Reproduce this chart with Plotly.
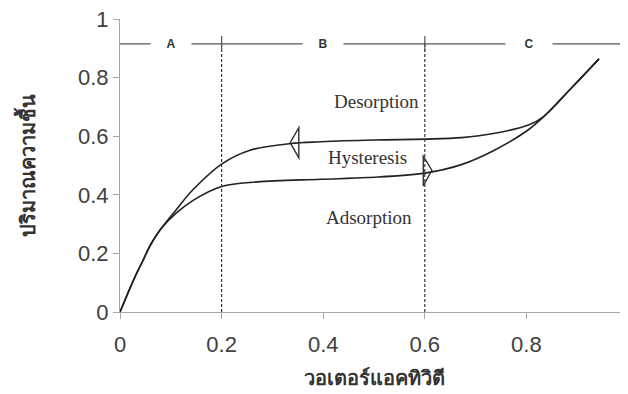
import plotly.graph_objects as go

# ---- data ----
ads_x = [0, 0.028, 0.045, 0.061, 0.081, 0.111, 0.144, 0.2, 0.27, 0.395, 0.487, 0.6, 0.672, 0.738, 0.804, 0.834, 0.89, 0.943]
ads_y = [0, 0.114, 0.175, 0.232, 0.285, 0.338, 0.381, 0.428, 0.444, 0.453, 0.459, 0.474, 0.503, 0.553, 0.622, 0.667, 0.767, 0.864]
des_x = [0, 0.028, 0.045, 0.061, 0.081, 0.111, 0.144, 0.2, 0.256, 0.336, 0.395, 0.5, 0.6, 0.672, 0.738, 0.804, 0.834, 0.89, 0.943]
des_y = [0, 0.114, 0.175, 0.232, 0.285, 0.35, 0.418, 0.505, 0.552, 0.575, 0.581, 0.587, 0.59, 0.595, 0.61, 0.638, 0.667, 0.767, 0.864]

zone_labels = ["A", "B", "C"]
zone_label_x = [0.101, 0.40, 0.805]
zone_bounds = [0.2, 0.6]
zone_line_y = 0.915

curve_labels = ["Desorption", "Hysteresis", "Adsorption"]
curve_label_x = [0.505, 0.487, 0.491]
curve_label_y = [0.718, 0.529, 0.322]

# arrows: (tip_x, tip_y, base_x, base_y0, base_y1)
arrow_left = (0.335, 0.578, 0.352, 0.526, 0.629)
arrow_right = (0.614, 0.484, 0.597, 0.430, 0.532)

x_ticks = [0, 0.2, 0.4, 0.6, 0.8, 1]
x_ticktext = ["0", "0.2", "0.4", "0.6", "0.8", "1"]
y_ticks = [0, 0.2, 0.4, 0.6, 0.8, 1]
y_ticktext = ["0", "0.2", "0.4", "0.6", "0.8", "1"]

x_title = "วอเตอร์แอคทิวิตี"
y_title = "ปริมาณความชื้น"

fig = go.Figure()
line_style = dict(color="#222222", width=1.6, shape="spline", smoothing=1.0)
fig.add_trace(go.Scatter(x=ads_x, y=ads_y, mode="lines", line=line_style, hoverinfo="skip"))
fig.add_trace(go.Scatter(x=des_x, y=des_y, mode="lines", line=line_style, hoverinfo="skip"))

shapes = []
shapes.append(dict(type="line", xref="x", yref="y", x0=0, x1=1, y0=zone_line_y, y1=zone_line_y,
                   line=dict(color="#555555", width=1.2)))
for b in zone_bounds:
    shapes.append(dict(type="line", xref="x", yref="y", x0=b, x1=b, y0=0, y1=zone_line_y,
                       line=dict(color="#333333", width=1.2, dash="3px,2px")))
    shapes.append(dict(type="line", xref="x", yref="y", x0=b, x1=b, y0=zone_line_y - 0.027, y1=zone_line_y + 0.027,
                       line=dict(color="#555555", width=1.2)))
for a in (arrow_left, arrow_right):
    tx, ty, bx, by0, by1 = a
    shapes.append(dict(type="path", xref="x", yref="y",
                       path=f"M {tx} {ty} L {bx} {by0} L {bx} {by1} Z",
                       line=dict(color="#333333", width=1.4), fillcolor="rgba(255,255,255,0)"))

annotations = []
gap_w = [36, 36, 42]
for lab, lx, w in zip(zone_labels, zone_label_x, gap_w):
    annotations.append(dict(x=lx, y=zone_line_y, xref="x", yref="y", text=f"<b>{lab}</b>",
                            showarrow=False, bgcolor="white", width=w, borderpad=2,
                            font=dict(family="Liberation Sans, Arial", size=12, color="#333333")))
for lab, lx, ly in zip(curve_labels, curve_label_x, curve_label_y):
    annotations.append(dict(x=lx, y=ly, xref="x", yref="y", text=lab, showarrow=False,
                            font=dict(family="Liberation Serif, Times New Roman, serif", size=19, color="#333333")))

# page body has an 8px margin, so the figure is sized/offset to land on the 628x394 window
fig.update_layout(
    width=620, height=386,
    margin=dict(l=112, r=0, t=11, b=82, autoexpand=False),
    paper_bgcolor="white", plot_bgcolor="white",
    showlegend=False,
    shapes=shapes, annotations=annotations,
    font=dict(family="Liberation Sans, Arial, sans-serif", color="#404040"),
)
fig.update_xaxes(range=[0, 1], tickvals=x_ticks, ticktext=x_ticktext, showgrid=False, zeroline=False,
                 showline=True, linecolor="#a6a6a6", linewidth=1.2, ticks="outside", ticklen=6,
                 tickcolor="#a6a6a6", tickfont=dict(size=22, color="#404040"), ticklabelstandoff=6,
                 ticklabeloverflow="allow", automargin=False,
                 title=dict(text=f"<b>{x_title}</b>", font=dict(size=20, color="#333333",
                            family="Noto Sans, DejaVu Sans, sans-serif"), standoff=15))
fig.update_yaxes(range=[0, 1], tickvals=y_ticks, ticktext=y_ticktext, showgrid=False, zeroline=False,
                 showline=True, linecolor="#a6a6a6", linewidth=1.2, ticks="outside", ticklen=6,
                 tickcolor="#a6a6a6", tickfont=dict(size=22, color="#404040"), ticklabelstandoff=0,
                 ticklabeloverflow="allow", automargin=False,
                 title=dict(text=f"<b>{y_title}</b>", font=dict(size=20, color="#333333",
                            family="Noto Sans, DejaVu Sans, sans-serif"), standoff=36))

fig.write_html("out.html")
